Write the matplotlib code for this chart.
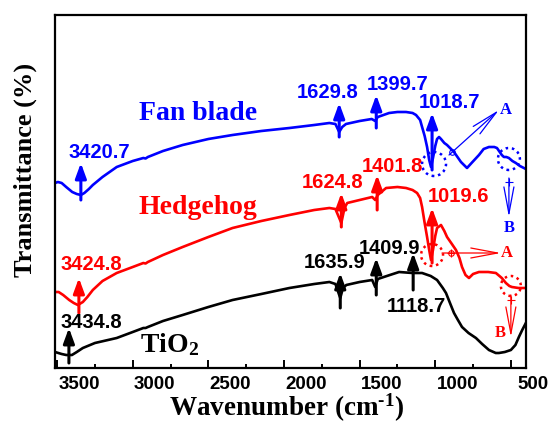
import matplotlib
matplotlib.use("Agg")
import matplotlib.pyplot as plt
import matplotlib.transforms as mtransforms
from matplotlib.patches import Ellipse

plt.rcParams["mathtext.fontset"] = "custom"
plt.rcParams["mathtext.rm"] = "Liberation Serif:bold"
plt.rcParams["mathtext.bf"] = "Liberation Serif:bold"
plt.rcParams["mathtext.default"] = "bf"

# ---- data (wavenumber cm-1, relative transmittance in arbitrary units) ----
fan_wn = [3514, 3495, 3470, 3440, 3400, 3370, 3343, 3320, 3290, 3264, 3200, 3106, 3000, 2930, 2915,
          2900, 2800, 2670, 2500, 2340, 2150, 1964, 1800, 1700, 1660, 1635, 1615, 1590, 1500, 1420,
          1397, 1380, 1305, 1250, 1193, 1150, 1127, 1100, 1087, 1070, 1054, 1040, 1028, 1015, 1000,
          988, 975, 962, 940, 922, 876, 830, 790, 760, 711, 680, 645, 610, 592, 560, 546, 530, 513,
          490, 467, 440, 414, 401]
fan_t = [185, 186, 185, 181, 176, 174, 173, 175, 179, 183, 191, 201, 207, 210, 209.5,
         211, 217, 223, 229, 233, 237, 240, 243, 245, 244, 236, 241, 244, 247, 249,
         247, 251, 255, 256, 256, 255, 253, 248, 241, 232, 221, 208, 201, 210, 222,
         229, 231, 229, 225, 223, 216, 206, 200, 205, 213, 219, 221, 221, 220, 213, 211, 211, 210,
         207, 205, 202, 200, 199]

hedge_wn = [3514, 3490, 3460, 3420, 3390, 3363, 3330, 3300, 3264, 3200, 3106, 3000, 2930, 2915, 2900,
            2800, 2670, 2500, 2340, 2150, 1964, 1800, 1700, 1660, 1621, 1600, 1582, 1500, 1417, 1397,
            1380, 1325, 1250, 1193, 1150, 1120, 1100, 1087, 1070, 1054, 1040, 1028, 1015, 1000, 988,
            962, 940, 922, 890, 863, 840, 823, 800, 777, 750, 711, 650, 599, 560, 533, 510, 493, 450, 401]
hedge_t = [76, 76, 73, 68, 65, 63, 66, 71, 78, 87, 95, 101, 105, 104.5, 106,
           113, 121, 131, 140, 147, 153, 158, 160, 159, 145, 160, 165, 168, 171, 168,
           173, 180, 181, 180, 178, 175, 170, 161, 145, 131, 118, 108, 118, 132, 140,
           143, 137, 131, 124, 118, 110, 101, 93, 90, 94, 96, 96, 95, 90, 85, 82, 81, 80, 80]

tio2_wn = [3514, 3470, 3440, 3402, 3370, 3330, 3250, 3106, 3000, 2930, 2915, 2900, 2800, 2670, 2500,
           2340, 2150, 1964, 1800, 1700, 1660, 1628, 1610, 1588, 1500, 1417, 1397, 1380, 1300, 1239,
           1150, 1087, 1030, 988, 950, 929, 900, 876, 850, 823, 780, 731, 690, 645, 600, 579, 540,
           500, 470, 447, 425, 401]
tio2_t = [16, 14, 13, 13, 16, 20, 25, 30, 36, 40, 40, 41, 47, 53, 61,
          68, 74, 80, 84, 86, 84, 70, 80, 83, 86, 88, 81, 89, 93, 96,
          95, 95, 92, 88, 80, 75, 64, 55, 48, 41, 35, 30, 24, 18, 15, 15, 16,
          18, 23, 31, 38, 45]

# peak labels: (text, label x, label y, arrow x, arrow bottom, arrow top)
fan_peaks = [("3420.7", 3224, 215, 3343, 168, 205),
             ("1629.8", 1714, 276, 1635, 231, 265),
             ("1399.7", 1252, 284, 1390, 240, 273),
             ("1018.7", 909, 266, 1021, 198, 255)]
hedge_peaks = [("3424.8", 3277, 104, 3356, 55, 90),
               ("1624.8", 1681, 186, 1621, 141, 175),
               ("1401.8", 1285, 201, 1384, 158, 193),
               ("1019.6", 843, 171, 1021, 105, 160)]
tio2_peaks = [("3434.8", 3277, 45, 3422, 5, 40),
              ("1635.9", 1668, 105, 1628, 60, 95),
              ("1409.9", 1305, 120, 1390, 73, 110),
              ("1118.7", 1127, 61, 1146, 78, 115)]

xticks_major = [3500, 3000, 2500, 2000, 1500, 1000, 500]
xticks_minor = [3250, 2750, 2250, 1750, 1250, 750]

BLUE = "#0000FF"
RED = "#FF0000"
BLACK = "#000000"
SANS = "Liberation Sans"
SERIF = "Liberation Serif"

fig = plt.figure(figsize=(5.5, 4.26), dpi=100)
ax = fig.add_axes([55 / 550, 1 - 368 / 426, (526 - 55) / 550, (368 - 15) / 426])

ax.plot(fan_wn, fan_t, color=BLUE, lw=1.9)
ax.plot(hedge_wn, hedge_t, color=RED, lw=1.9)
ax.plot(tio2_wn, tio2_t, color=BLACK, lw=1.9)

ax.set_xlim(3514, 400)
ax.set_ylim(0, 353)


def peaks(lst, color):
    for txt, lx, ly, axx, yb, yt in lst:
        ax.annotate("", xy=(axx, yt), xytext=(axx, yb),
                    arrowprops=dict(arrowstyle="-|>,head_length=0.6,head_width=0.22",
                                    lw=2.2, color=color, mutation_scale=15,
                                    shrinkA=0, shrinkB=0))
        ax.text(lx, ly, txt, color=color, fontsize=14.5, fontweight="bold",
                family=SANS, ha="center", va="center")


peaks(fan_peaks, BLUE)
peaks(hedge_peaks, RED)
peaks(tio2_peaks, BLACK)

ax.text(2571, 255, "Fan blade", color=BLUE, fontsize=20, fontweight="bold",
        family=SERIF, ha="center", va="center")
ax.text(2571, 161, "Hedgehog", color=RED, fontsize=20, fontweight="bold",
        family=SERIF, ha="center", va="center")
ax.text(2756, 23, r"TiO$_{\mathbf{2}}$", color=BLACK, fontsize=20, fontweight="bold",
        family=SERIF, ha="center", va="center")

# dotted circles
for (cx, cy, r, col) in [(1008, 204, 12, BLUE), (513, 209, 11, BLUE),
                         (1021, 113, 11, RED), (500, 82, 10, RED)]:
    ax.add_patch(Ellipse((cx, cy), width=2 * r / 0.1516, height=2 * r,
                         fill=False, ls=(0, (1, 1.5)), lw=1.8, color=col))

# A / B pointer arrows
thin = dict(lw=0.9, shrinkA=0, shrinkB=0, mutation_scale=12)
ax.annotate("", xy=(579, 258), xytext=(909, 213),
            arrowprops=dict(arrowstyle="->,head_length=1.6,head_width=0.3", color=BLUE, **thin))
ax.plot([889], [216], marker="o", ms=4, mfc="none", mec=BLUE, mew=0.8)
ax.text(533, 258, "A", color=BLUE, fontsize=12, fontweight="bold", family=SERIF,
        ha="center", va="center")

ax.annotate("", xy=(513, 151), xytext=(513, 190),
            arrowprops=dict(arrowstyle="->,head_length=1.6,head_width=0.3", color=BLUE, **thin))
ax.plot([513], [186], marker="+", ms=6, mec=BLUE, mew=0.8)
ax.text(513, 140, "B", color=BLUE, fontsize=12, fontweight="bold", family=SERIF,
        ha="center", va="center")

ax.annotate("", xy=(566, 115), xytext=(955, 115),
            arrowprops=dict(arrowstyle="->,head_length=1.6,head_width=0.3", color=RED, **thin))
ax.plot([896], [115], marker="o", ms=4, mfc="none", mec=RED, mew=0.8)
ax.plot([896], [115], marker="+", ms=6, mec=RED, mew=0.8)
ax.text(526, 115, "A", color=RED, fontsize=12, fontweight="bold", family=SERIF,
        ha="center", va="center")

ax.annotate("", xy=(500, 31), xytext=(500, 73),
            arrowprops=dict(arrowstyle="->,head_length=1.6,head_width=0.3", color=RED, **thin))
ax.plot([500], [68], marker="+", ms=6, mec=RED, mew=0.8)
ax.text(573, 35, "B", color=RED, fontsize=12, fontweight="bold", family=SERIF,
        ha="center", va="center")

# axes styling
for s in ax.spines.values():
    s.set_linewidth(1.6)
ax.set_xticks(xticks_major)
ax.set_xticks(xticks_minor, minor=True)
ax.set_xticklabels([str(v) for v in xticks_major])
ax.set_yticks([])
ax.tick_params(axis="x", which="major", direction="in", length=5.5, width=1.4, pad=6)
ax.tick_params(axis="x", which="minor", direction="in", length=3, width=1.4)
offset = mtransforms.ScaledTranslation(0.22, 0, fig.dpi_scale_trans)
for lab in ax.get_xticklabels():
    lab.set_fontfamily(SANS)
    lab.set_fontweight("bold")
    lab.set_fontsize(13.5)
    lab.set_transform(lab.get_transform() + offset)

fig.text(287 / 550, 1 - 408 / 426, r"Wavenumber (cm$^{\text{-1}}$)", fontsize=19.5,
         fontweight="bold", family=SERIF, ha="center", va="center")
fig.text(25 / 550, 1 - 170 / 426, "Transmittance (%)", fontsize=19, fontweight="bold",
         family=SERIF, ha="center", va="center", rotation=90)

fig.savefig("out.png", dpi=100)
